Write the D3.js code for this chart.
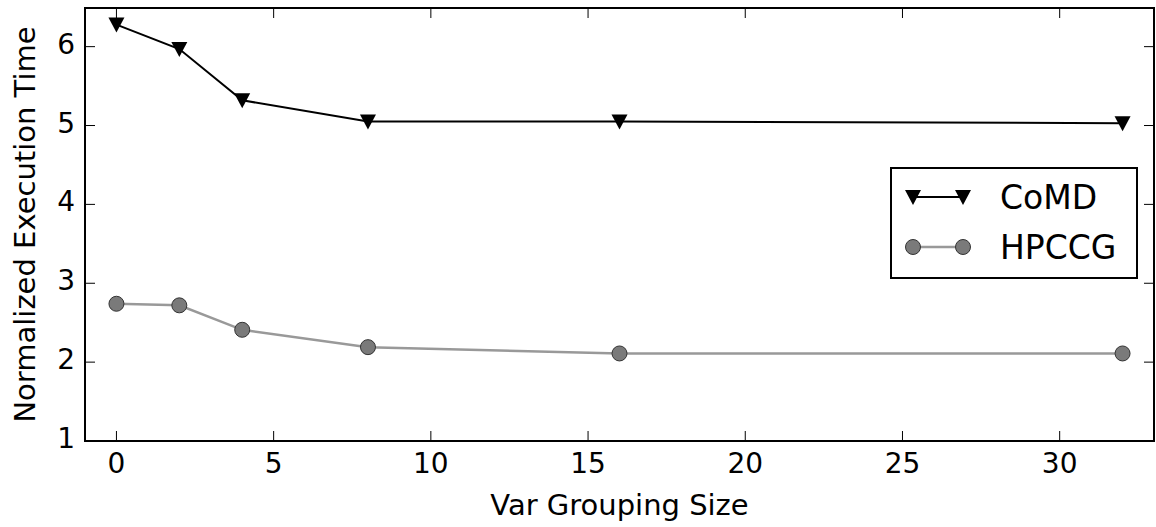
<!DOCTYPE html>
<html><head><meta charset="utf-8">
<script src="https://cdn.jsdelivr.net/npm/d3@7"></script>
<style>
body{margin:0;background:#fff;}
text{font-family:"DejaVu Sans",sans-serif;fill:#000;}
</style></head>
<body><svg id="c" width="1156" height="527"></svg>
<script>
const xValues = [0, 2, 4, 8, 16, 32];
const comd = [6.28, 5.97, 5.32, 5.05, 5.05, 5.03];
const hpccg = [2.74, 2.72, 2.41, 2.19, 2.11, 2.11];
const xTicks = [0, 5, 10, 15, 20, 25, 30];
const yTicks = [1, 2, 3, 4, 5, 6];
const seriesNames = ["CoMD", "HPCCG"];

const svg = d3.select("#c");
const L = 85, R = 1154, T = 8, B = 441;
const x = d3.scaleLinear().domain([-1, 33]).range([L, R]);
const y = d3.scaleLinear().domain([1, 6.49]).range([B, T]);

const g = svg.append("g");
// ticks (inward) on all sides
const tickLen = 10;
xTicks.forEach(t => {
  g.append("line").attr("x1", x(t)).attr("x2", x(t)).attr("y1", B).attr("y2", B - tickLen).attr("stroke", "#000").attr("stroke-width", 1);
  g.append("line").attr("x1", x(t)).attr("x2", x(t)).attr("y1", T).attr("y2", T + tickLen).attr("stroke", "#000").attr("stroke-width", 1);
  g.append("text").attr("x", x(t)).attr("y", B + 32).attr("text-anchor", "middle").attr("font-size", 28).text(t);
});
yTicks.forEach(t => {
  g.append("line").attr("x1", L).attr("x2", L + tickLen).attr("y1", y(t)).attr("y2", y(t)).attr("stroke", "#000").attr("stroke-width", 1);
  g.append("line").attr("x1", R).attr("x2", R - tickLen).attr("y1", y(t)).attr("y2", y(t)).attr("stroke", "#000").attr("stroke-width", 1);
  g.append("text").attr("x", L - 10).attr("y", y(t) + 7).attr("text-anchor", "end").attr("font-size", 28).text(t);
});

const line = d3.line().x((d, i) => x(xValues[i])).y(d => y(d));
svg.append("path").datum(hpccg).attr("d", line).attr("fill", "none").attr("stroke", "#999").attr("stroke-width", 2.5);
svg.append("path").datum(comd).attr("d", line).attr("fill", "none").attr("stroke", "#000").attr("stroke-width", 2);

const tri = d3.symbol().type(d3.symbolTriangle).size(150)();
function triDown(sel, cx, cy) {
  sel.append("path").attr("d", "M" + (cx - 8) + "," + (cy - 7) + "L" + (cx + 8) + "," + (cy - 7) + "L" + cx + "," + (cy + 8) + "Z").attr("fill", "#000");
}
function circ(sel, cx, cy) {
  sel.append("circle").attr("cx", cx).attr("cy", cy).attr("r", 7.5).attr("fill", "#7a7a7a").attr("stroke", "#333").attr("stroke-width", 1);
}
hpccg.forEach((v, i) => circ(svg, x(xValues[i]), y(v)));
comd.forEach((v, i) => triDown(svg, x(xValues[i]), y(v)));

// frame
svg.append("rect").attr("x", L).attr("y", T).attr("width", R - L).attr("height", B - T).attr("fill", "none").attr("stroke", "#000").attr("stroke-width", 2);

// axis labels
svg.append("text").attr("x", (L + R) / 2).attr("y", 515).attr("text-anchor", "middle").attr("font-size", 29).text("Var Grouping Size");
svg.append("text").attr("transform", "translate(35," + ((T + B) / 2) + ") rotate(-90)").attr("text-anchor", "middle").attr("font-size", 29).text("Normalized Execution Time");

// legend
const lg = svg.append("g");
lg.append("rect").attr("x", 891).attr("y", 168).attr("width", 246).attr("height", 110).attr("fill", "#fff").attr("stroke", "#000").attr("stroke-width", 2);
const ly = [197, 247];
lg.append("line").attr("x1", 913).attr("x2", 963).attr("y1", ly[0]).attr("y2", ly[0]).attr("stroke", "#000").attr("stroke-width", 2);
triDown(lg, 913, ly[0]); triDown(lg, 963, ly[0]);
lg.append("line").attr("x1", 913).attr("x2", 963).attr("y1", ly[1]).attr("y2", ly[1]).attr("stroke", "#999").attr("stroke-width", 2.5);
circ(lg, 913, ly[1]); circ(lg, 963, ly[1]);
seriesNames.forEach((n, i) => {
  lg.append("text").attr("x", 1000).attr("y", ly[i] + 12).attr("font-size", 33).text(n);
});
</script></body></html>
